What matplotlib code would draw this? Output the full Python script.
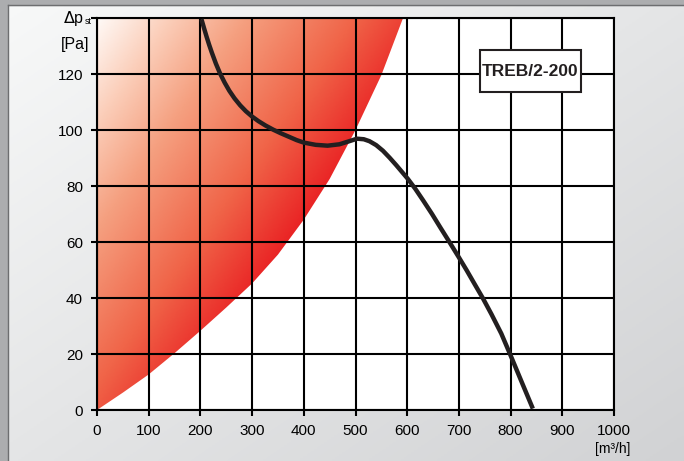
import numpy as np
import matplotlib
matplotlib.use("Agg")
import matplotlib.pyplot as plt
from matplotlib.colors import LinearSegmentedColormap
from matplotlib.patches import Polygon, Rectangle

plt.rcParams['font.family'] = ['Liberation Sans Narrow', 'Liberation Sans', 'DejaVu Sans']

# --- data ---
x_ticks = [0, 100, 200, 300, 400, 500, 600, 700, 800, 900, 1000]
y_ticks = [0, 20, 40, 60, 80, 100, 120]

# fan curve TREB/2-200 (flow m3/h, pressure Pa)
fan_q = [202, 207, 212, 217, 222, 230, 238, 247, 256, 266, 277, 288, 300, 312, 326, 341,
         356, 371, 386, 400, 423, 446, 469, 488, 503, 516, 527, 540, 553, 566, 579, 590,
         601, 616, 631, 648, 664, 682, 700, 715, 730, 747, 763, 782, 800, 821, 843]
fan_p = [139.6, 136.4, 133.3, 130.4, 127.7, 123.7, 120.2, 116.9, 114.0, 111.3, 108.8,
         106.7, 104.8, 103.2, 101.6, 100.1, 98.8, 97.6, 96.4, 95.5, 94.7, 94.4, 94.9,
         96.0, 96.9, 96.7, 96.0, 94.6, 92.6, 90.1, 87.4, 85.0, 82.6, 78.9, 74.8, 70.0,
         65.2, 59.9, 54.5, 49.9, 45.1, 39.7, 34.2, 27.3, 19.5, 10.2, 0.5]

# upper limit of the red working zone
zone_q = [0, 50, 100, 150, 200, 250, 300, 350, 400, 450, 500, 550, 592]
zone_p = [0, 6.2, 12.7, 20.3, 28.3, 36.6, 45.2, 55.5, 68.0, 82.5, 100.0, 119.6, 140]

model = "TREB/2-200"

fig = plt.figure(figsize=(6.84, 4.61), dpi=100)

# background: gray frame + light gradient panel
bg = fig.add_axes([0, 0, 1, 1], zorder=-10)
bg.set_axis_off()
gx, gy = np.meshgrid(np.linspace(0, 1, 200), np.linspace(0, 1, 200))
gval = (gx + gy) / 2
bg_cmap = LinearSegmentedColormap.from_list("bg", ["#f8f9f9", "#d1d2d4"])
bg.imshow(gval, cmap=bg_cmap, extent=[0, 1, 0, 1], origin="upper", aspect="auto")
bg.add_patch(Rectangle((0, 0), 7 / 684, 1, color="#acadaf", transform=bg.transAxes))
bg.add_patch(Rectangle((0, 1 - 5 / 461), 1, 5 / 461, color="#acadaf", transform=bg.transAxes))
bg.plot([7.5 / 684, 7.5 / 684], [0, 1 - 5.5 / 461], color="#6d6e70", lw=1)
bg.plot([7.5 / 684, 1], [1 - 5.5 / 461, 1 - 5.5 / 461], color="#6d6e70", lw=1)
bg.set_xlim(0, 1)
bg.set_ylim(0, 1)

ax = fig.add_axes([97 / 684, 51 / 461, 517 / 684, 392 / 461])
ax.set_facecolor("white")
ax.set_xlim(0, 1000)
ax.set_ylim(0, 140)

# red gradient zone clipped to the area left of the limit curve
zx, zy = np.meshgrid(np.linspace(0, 1000, 400), np.linspace(140, 0, 300))
t = 0.0027 * (zx / 1000 * 517) + 0.0019 * ((140 - zy) / 140 * 392)
red_cmap = LinearSegmentedColormap.from_list(
    "red", [(0, "#fffaf7"), (0.2, "#fbcdb8"), (0.4, "#f5a080"), (0.7, "#f06448"),
            (1.0, "#e8141c")])
img = ax.imshow(np.clip(t, 0, 1), cmap=red_cmap, extent=[0, 1000, 0, 140],
                aspect="auto", origin="upper", zorder=1)
poly_pts = list(zip(zone_q, zone_p)) + [(0, 140)]
clip = Polygon(poly_pts, closed=True, transform=ax.transData, facecolor="none", edgecolor="none")
ax.add_patch(clip)
img.set_clip_path(clip)

ax.set_xticks(x_ticks)
ax.set_yticks(y_ticks + [140])
ax.set_yticklabels([str(v) for v in y_ticks] + [""])
ax.grid(True, color="black", lw=1.5, zorder=2)
ax.set_axisbelow(False)
for s in ax.spines.values():
    s.set_linewidth(1.5)
    s.set_zorder(3)
ax.tick_params(direction="out", length=4, width=1.5, labelsize=11, pad=6)

ax.plot(fan_q, fan_p, color="#231f20", lw=3.2, solid_capstyle="butt",
        solid_joinstyle="round", zorder=4)

# model label box
ax.add_patch(Rectangle((741, 113.5), 195, 15.1, facecolor="white", edgecolor="#231f20",
                       lw=1.5, zorder=5))
ax.text(838.5, 121, model, fontsize=12.5, fontweight="bold", ha="center", va="center",
        color="#231f20", zorder=6)

fig.text(84 / 684, 1 - 18 / 461, r"$\Delta$p", fontsize=11.5, ha="right", va="center")
fig.text(85 / 684, 1 - 21 / 461, "st", fontsize=6.5, ha="left", va="center")
fig.text(89 / 684, 1 - 45 / 461, "[Pa]", fontsize=11.5, ha="right", va="center")
fig.text(613 / 684, 1 - 449 / 461, "[m³/h]", fontsize=10, ha="center", va="center")

fig.savefig("out.png", dpi=100)
